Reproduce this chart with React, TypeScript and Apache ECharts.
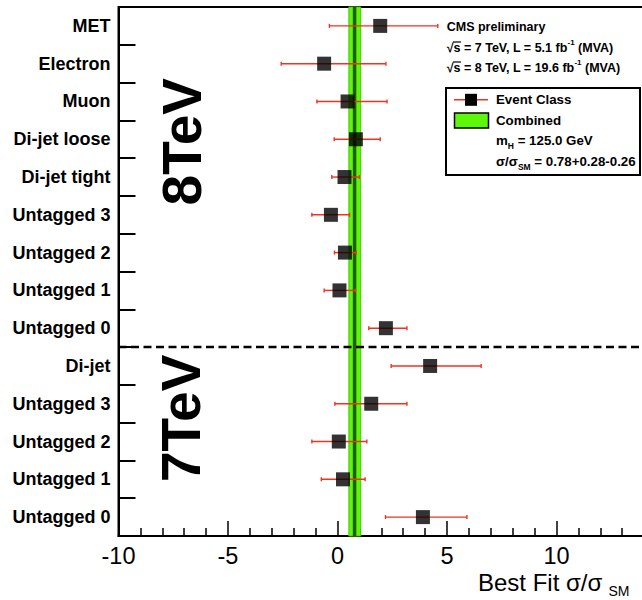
import React, { useEffect, useRef } from "react";
import * as echarts from "echarts";

// ---- data (top to bottom) ----
const rowLabels = [
  "MET", "Electron", "Muon", "Di-jet loose", "Di-jet tight",
  "Untagged 3", "Untagged 2", "Untagged 1", "Untagged 0",
  "Di-jet", "Untagged 3", "Untagged 2", "Untagged 1", "Untagged 0",
];
const rowIds = rowLabels.map((l, i) => (i < 9 ? "8TeV " : "7TeV ") + l);
const bestFit = [1.95, -0.61, 0.46, 0.84, 0.32, -0.3, 0.34, 0.09, 2.21, 4.23, 1.54, 0.06, 0.25, 3.9];
const lowerEdge = [-0.37, -2.57, -0.94, -0.15, -0.26, -1.17, -0.14, -0.61, 1.43, 2.45, -0.12, -1.17, -0.74, 2.19];
const upperEdge = [4.58, 2.21, 2.26, 1.95, 1.0, 0.55, 0.85, 0.81, 3.17, 6.56, 3.17, 1.34, 1.26, 5.91];
const combinedMu = 0.78;
const combinedUp = 0.28;
const combinedDown = 0.26;
const lastRow8TeV = 8;
const xMin = -10;
const xMax = 15;
const xInterval = 5;

const FONT = "'Liberation Sans', Arial, Helvetica, sans-serif";
const RED = "#ee3322";
const GREEN = "#5ef70a";

export default function App() {
  const ref = useRef<HTMLDivElement>(null);
  useEffect(() => {
    if (!ref.current) return;
    const chart = echarts.init(ref.current, null, { renderer: "svg" });
    const option: any = {
      animation: false,
      backgroundColor: "#fff",
      grid: {
        left: 118.5, right: 34, top: 7, bottom: 64,
        show: true, borderColor: "#000", borderWidth: 2, backgroundColor: "transparent",
      },
      xAxis: {
        type: "value", min: xMin, max: xMax, interval: xInterval,
        axisLine: { show: true, onZero: false, lineStyle: { color: "#000", width: 2 } },
        axisTick: { show: true, inside: true, length: 15, lineStyle: { color: "#000", width: 1.5 } },
        minorTick: { show: true, splitNumber: 5, length: 8, lineStyle: { color: "#000", width: 1.5 } },
        axisLabel: {
          fontSize: 23.5, lineHeight: 23.5, fontFamily: FONT, color: "#000", margin: 7.75,
          formatter: (v: number) => (v === xMax ? "" : String(v)),
        },
        splitLine: { show: false },
      },
      yAxis: {
        type: "category", data: rowIds, inverse: true,
        axisLine: { show: true, onZero: false, lineStyle: { color: "#000", width: 2 } },
        axisTick: { show: true, inside: true, length: 17, interval: 0, alignWithLabel: false, lineStyle: { color: "#000", width: 2 } },
        axisLabel: {
          interval: 0, margin: 8, fontSize: 18, fontWeight: "bold", fontFamily: FONT, color: "#000",
          formatter: (_v: string, i: number) => rowLabels[i],
        },
        splitLine: { show: false },
      },
      series: [
        {
          type: "custom", z: 1,
          data: [[combinedMu - combinedDown, combinedMu + combinedUp, combinedMu, 0]],
          encode: { x: [0, 1, 2], y: 3 },
          renderItem: (params: any, api: any) => {
            const cs = params.coordSys;
            const x1 = api.coord([api.value(0), 0])[0];
            const x2 = api.coord([api.value(1), 0])[0];
            const xm = api.coord([api.value(2), 0])[0];
            return {
              type: "group",
              children: [
                { type: "rect", shape: { x: x1, y: cs.y, width: x2 - x1, height: cs.height },
                  style: { fill: GREEN, stroke: "#48c808", lineWidth: 1 } },
                { type: "line", shape: { x1: xm, y1: cs.y, x2: xm, y2: cs.y + cs.height },
                  style: { stroke: "#1c5e0c", lineWidth: 3.5 } },
              ],
            };
          },
        },
        {
          type: "custom", z: 3,
          data: rowIds.map((id, i) => [lowerEdge[i], upperEdge[i], id]),
          encode: { x: [0, 1], y: 2 },
          renderItem: (_p: any, api: any) => {
            const a = api.coord([api.value(0), api.value(2)]);
            const b = api.coord([api.value(1), api.value(2)]);
            const st = { stroke: RED, lineWidth: 1.4 };
            return {
              type: "group",
              children: [
                { type: "line", shape: { x1: a[0], y1: a[1], x2: b[0], y2: b[1] }, style: st },
                { type: "line", shape: { x1: a[0], y1: a[1] - 2, x2: a[0], y2: a[1] + 2 }, style: st },
                { type: "line", shape: { x1: b[0], y1: b[1] - 2, x2: b[0], y2: b[1] + 2 }, style: st },
              ],
            };
          },
        },
        {
          type: "scatter", z: 4,
          data: rowIds.map((id, i) => [bestFit[i], id]),
          symbol: "rect", symbolSize: 14,
          itemStyle: { color: "#000" },
        },
        {
          type: "custom", z: 5,
          data: [[xMin, xMax, lastRow8TeV]],
          encode: { x: [0, 1], y: 2 },
          renderItem: (params: any, api: any) => {
            const cs = params.coordSys;
            const c = api.coord([0, api.value(2)]);
            const h = api.size([0, 1])[1];
            const y = c[1] + h / 2;
            return {
              type: "line",
              shape: { x1: cs.x, y1: y, x2: cs.x + cs.width, y2: y },
              style: { stroke: "#000", lineWidth: 2.5, lineDash: [8, 4.5] },
            };
          },
        },
      ],
      graphic: [
        { type: "text", x: 181.5, y: 141.7, rotation: Math.PI / 2,
          style: { text: "8TeV", fontSize: 55, fontWeight: "bold", fontFamily: FONT, fill: "#000", align: "center", verticalAlign: "middle" } },
        { type: "text", x: 181, y: 418.3, rotation: Math.PI / 2,
          style: { text: "7TeV", fontSize: 55, fontWeight: "bold", fontFamily: FONT, fill: "#000", align: "center", verticalAlign: "middle" } },
        { type: "text", x: 446.7, y: 27,
          style: { text: "CMS preliminary", fontSize: 12.5, fontWeight: "bold", fontFamily: FONT, fill: "#000", align: "left", verticalAlign: "middle" } },
        { type: "text", x: 446.7, y: 47.5,
          style: {
            text: "{a|√s = 7 TeV, L = 5.1 fb}{s|-1}{a| (MVA)}", align: "left", verticalAlign: "middle",
            rich: {
              a: { fontSize: 12.5, fontWeight: "bold", fontFamily: FONT, fill: "#000", lineHeight: 18 },
              s: { fontSize: 8, fontWeight: "bold", fontFamily: FONT, fill: "#000", lineHeight: 9, verticalAlign: "top" },
            },
          } },
        { type: "text", x: 446.7, y: 67.5,
          style: {
            text: "{a|√s = 8 TeV, L = 19.6 fb}{s|-1}{a| (MVA)}", align: "left", verticalAlign: "middle",
            rich: {
              a: { fontSize: 12.5, fontWeight: "bold", fontFamily: FONT, fill: "#000", lineHeight: 18 },
              s: { fontSize: 8, fontWeight: "bold", fontFamily: FONT, fill: "#000", lineHeight: 9, verticalAlign: "top" },
            },
          } },
        { type: "line", shape: { x1: 453, y1: 42, x2: 461, y2: 42 }, style: { stroke: "#000", lineWidth: 1.2 } },
        { type: "line", shape: { x1: 453, y1: 62, x2: 461, y2: 62 }, style: { stroke: "#000", lineWidth: 1.2 } },
        // legend box
        { type: "rect", shape: { x: 446, y: 88, width: 194, height: 87 }, style: { fill: "#fff", stroke: "#000", lineWidth: 2 }, z: 10 },
        { type: "line", shape: { x1: 454, y1: 99.8, x2: 488, y2: 99.8 }, style: { stroke: RED, lineWidth: 1.4 }, z: 11 },
        { type: "rect", shape: { x: 465, y: 93.8, width: 12, height: 12 }, style: { fill: "#000" }, z: 11 },
        { type: "rect", shape: { x: 454.5, y: 113, width: 34, height: 15 }, style: { fill: GREEN, stroke: "#000", lineWidth: 1.5 }, z: 11 },
        { type: "text", x: 496, y: 99.8, z: 11,
          style: { text: "Event Class", fontSize: 13.3, fontWeight: "bold", fontFamily: FONT, fill: "#000", align: "left", verticalAlign: "middle" } },
        { type: "text", x: 496, y: 120.5, z: 11,
          style: { text: "Combined", fontSize: 13.3, fontWeight: "bold", fontFamily: FONT, fill: "#000", align: "left", verticalAlign: "middle" } },
        { type: "text", x: 496, y: 140.8, z: 11,
          style: {
            text: "{a|m}{s|H}{a| = 125.0 GeV}", align: "left", verticalAlign: "middle",
            rich: {
              a: { fontSize: 13.3, fontWeight: "bold", fontFamily: FONT, fill: "#000", lineHeight: 19 },
              s: { fontSize: 8.5, fontWeight: "bold", fontFamily: FONT, fill: "#000", lineHeight: 9, verticalAlign: "bottom" },
            },
          } },
        { type: "text", x: 496, y: 161.5, z: 11,
          style: {
            text: "{a|σ/σ}{s|SM}{a| = 0.78+0.28-0.26}", align: "left", verticalAlign: "middle",
            rich: {
              a: { fontSize: 13.3, fontWeight: "bold", fontFamily: FONT, fill: "#000", lineHeight: 19 },
              s: { fontSize: 8.5, fontWeight: "bold", fontFamily: FONT, fill: "#000", lineHeight: 9, verticalAlign: "bottom" },
            },
          } },
        // x axis title
        { type: "text", x: 478, y: 582.3,
          style: { text: "Best Fit σ/σ", fontSize: 24, lineHeight: 24, fontFamily: FONT, fill: "#000", align: "left", verticalAlign: "middle" } },
        { type: "text", x: 608.5, y: 591,
          style: { text: "SM", fontSize: 14, lineHeight: 12, fontFamily: FONT, fill: "#000", align: "left", verticalAlign: "middle" } },
      ],
    };
    chart.setOption(option);
    return () => chart.dispose();
  }, []);
  return (
    <div
      ref={ref}
      style={{ position: "fixed", left: 0, top: 0, width: 700, height: 600, background: "#fff" }}
    />
  );
}
